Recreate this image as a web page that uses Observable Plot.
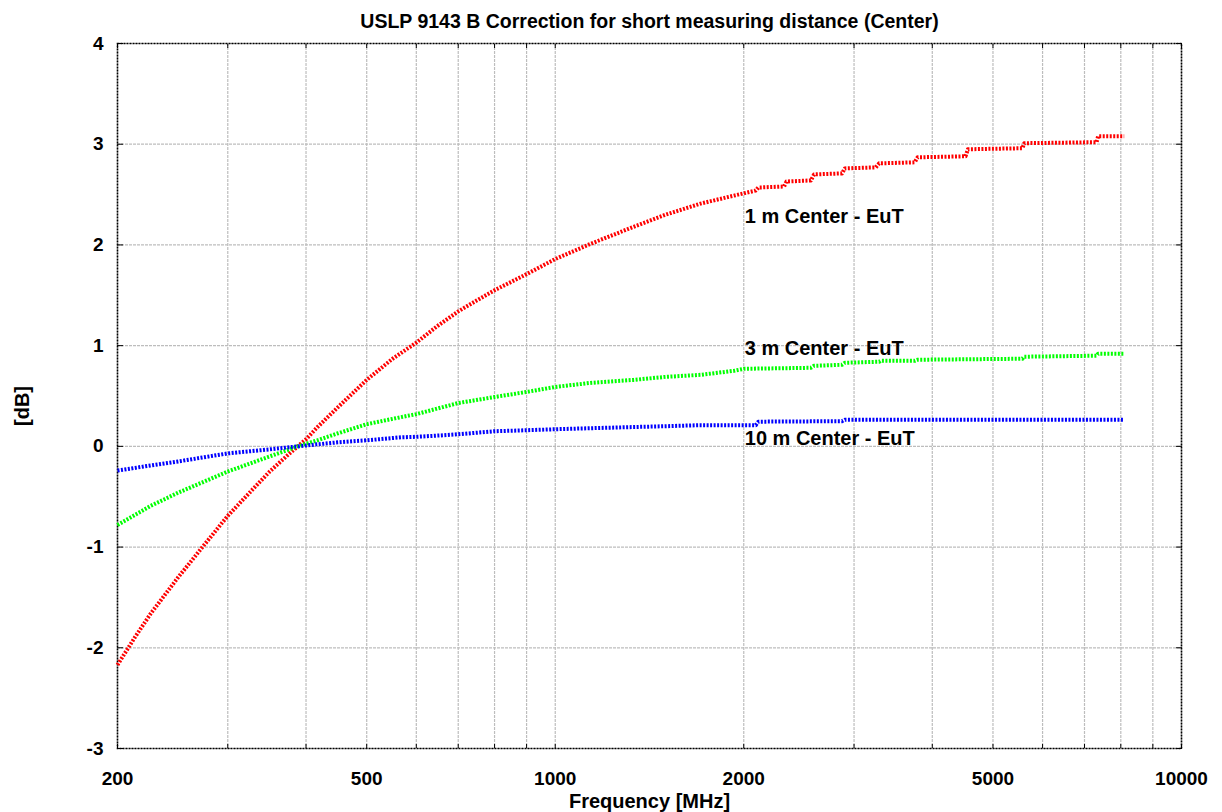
<!DOCTYPE html>
<html>
<head>
<meta charset="utf-8">
<script src="https://cdn.jsdelivr.net/npm/d3@7"></script>
<script src="https://cdn.jsdelivr.net/npm/@observablehq/plot@0.6"></script>
<style>
  html, body { margin: 0; padding: 0; background: #fff; }
  #chart svg { display: block; }
</style>
</head>
<body>
<div id="chart"></div>
<script>
// ---- data ----
const titleText = "USLP 9143 B Correction for short measuring distance (Center)";
const xLabel = "Frequency [MHz]";
const yLabel = "[dB]";

// x tick labels and grid lines (MHz)
const xTickLabels = [200, 500, 1000, 2000, 5000, 10000];
const xGridLines = [200, 300, 400, 500, 600, 700, 800, 900, 1000, 2000, 3000, 4000, 5000, 6000, 7000, 8000, 9000, 10000];
const yTicks = [-3, -2, -1, 0, 1, 2, 3, 4];

// series: [frequency MHz, correction dB]
const series1m = [
  [200, -2.17], [213, -1.90], [226, -1.66], [250, -1.30], [275, -0.98], [300, -0.69],
  [325, -0.46], [350, -0.25], [375, -0.08], [388, 0.00], [400, 0.07], [417, 0.19],
  [450, 0.39], [500, 0.66], [550, 0.87], [600, 1.03], [650, 1.20], [700, 1.34],
  [750, 1.45], [800, 1.55], [900, 1.71], [1000, 1.86], [1138, 2.01], [1334, 2.18], [1500, 2.30],
  [1706, 2.41], [1930, 2.49], [2090, 2.54], [2110, 2.57], [2320, 2.58], [2340, 2.63],
  [2560, 2.64], [2590, 2.70], [2870, 2.71], [2900, 2.76], [3250, 2.77], [3290, 2.81],
  [3750, 2.82], [3790, 2.87], [4520, 2.88], [4560, 2.95], [5570, 2.96], [5610, 3.01],
  [7320, 3.02], [7360, 3.08], [8100, 3.08]
];
const series3m = [
  [200, -0.78], [226, -0.59], [250, -0.46], [275, -0.35], [300, -0.25], [350, -0.10],
  [388, 0.00], [417, 0.06], [450, 0.13], [500, 0.22], [567, 0.29], [600, 0.32],
  [700, 0.43], [800, 0.49], [900, 0.54], [1000, 0.59], [1138, 0.63], [1334, 0.66],
  [1500, 0.69], [1706, 0.71], [1930, 0.75], [2000, 0.77], [2560, 0.78], [2590, 0.80],
  [2870, 0.81], [2900, 0.83], [3290, 0.84], [3310, 0.85], [3750, 0.85], [3790, 0.86],
  [5570, 0.87], [5610, 0.89], [7320, 0.90], [7360, 0.92], [8100, 0.92]
];
const series10m = [
  [200, -0.24], [226, -0.19], [250, -0.15], [300, -0.07], [350, -0.03], [388, 0.00],
  [417, 0.02], [450, 0.04], [500, 0.06], [567, 0.09], [600, 0.095], [650, 0.107],
  [700, 0.12], [800, 0.15], [900, 0.16], [1000, 0.17], [1300, 0.19], [1500, 0.20],
  [1700, 0.21], [2090, 0.21], [2110, 0.245], [2870, 0.25], [2900, 0.265], [8100, 0.265]
];

// in-plot series labels
const seriesNames = ["1 m Center - EuT", "3 m Center - EuT", "10 m Center - EuT"];
const seriesColors = ["#ff0000", "#00ff00", "#0000ff"];
const labelFreq = [2000, 2000, 2000];
const labelDb = [2.285, 0.97, 0.08];

// ---- build chart ----
const labels = seriesNames.map((t, i) => ({text: t, f: labelFreq[i], v: labelDb[i]}));
const fx = d => d[0], fy = d => d[1];
const lineStyle = {x: fx, y: fy, strokeWidth: 4, strokeDasharray: "2,1.5", strokeLinecap: "butt"};

const chart = Plot.plot({
  width: 1222,
  height: 812,
  marginTop: 43,
  marginBottom: 64,
  marginLeft: 117,
  marginRight: 41,
  x: {type: "log", domain: [200, 10000], label: null},
  y: {domain: [-3, 4], label: null},
  style: {fontFamily: "'Liberation Sans', Arial, sans-serif", fontWeight: "bold", background: "#fff", color: "#000"},
  marks: [
    Plot.gridX(xGridLines, {stroke: "#bdbdbd", strokeOpacity: 1, strokeDasharray: "3,1", strokeWidth: 1.2}),
    Plot.gridY(yTicks, {stroke: "#bdbdbd", strokeOpacity: 1, strokeDasharray: "3,1", strokeWidth: 1.2}),
    // tick marks pointing inward on all four sides
    Plot.axisX(xGridLines, {anchor: "bottom", tickSize: -4, tickFormat: () => "", stroke: "#000", label: null}),
    Plot.axisX(xGridLines, {anchor: "top", tickSize: -4, tickFormat: () => "", stroke: "#000", label: null}),
    Plot.axisY(yTicks, {anchor: "left", tickSize: -6, tickFormat: () => "", stroke: "#000", label: null}),
    Plot.axisY(yTicks, {anchor: "right", tickSize: -6, tickFormat: () => "", stroke: "#000", label: null}),
    // tick labels
    Plot.axisX(xTickLabels, {anchor: "bottom", tickSize: 0, tickPadding: 23, fontSize: 19, tickFormat: d => String(d), label: null}),
    Plot.axisY(yTicks, {anchor: "left", tickSize: 0, tickPadding: 14, fontSize: 19, tickFormat: d => String(d), label: null}),
    Plot.frame({stroke: "#000", strokeDasharray: "2,1", strokeWidth: 1.6}),
    Plot.line(series1m, {...lineStyle, stroke: seriesColors[0]}),
    Plot.line(series3m, {...lineStyle, stroke: seriesColors[1]}),
    Plot.line(series10m, {...lineStyle, stroke: seriesColors[2]}),
    Plot.text(labels, {x: "f", y: "v", text: "text", textAnchor: "start", dx: 1, fontSize: 20, fill: "#000"}),
    Plot.text([titleText], {frameAnchor: "top", lineAnchor: "middle", textAnchor: "middle", dy: -22, fontSize: 19.5, fill: "#000"}),
    Plot.text([xLabel], {frameAnchor: "bottom", lineAnchor: "middle", textAnchor: "middle", dy: 53, fontSize: 20, fill: "#000"}),
    Plot.text([yLabel], {frameAnchor: "left", lineAnchor: "middle", textAnchor: "middle", dx: -95, dy: 10, rotate: -90, fontSize: 20, fill: "#000"})
  ]
});
document.getElementById("chart").appendChild(chart);
</script>
</body>
</html>
